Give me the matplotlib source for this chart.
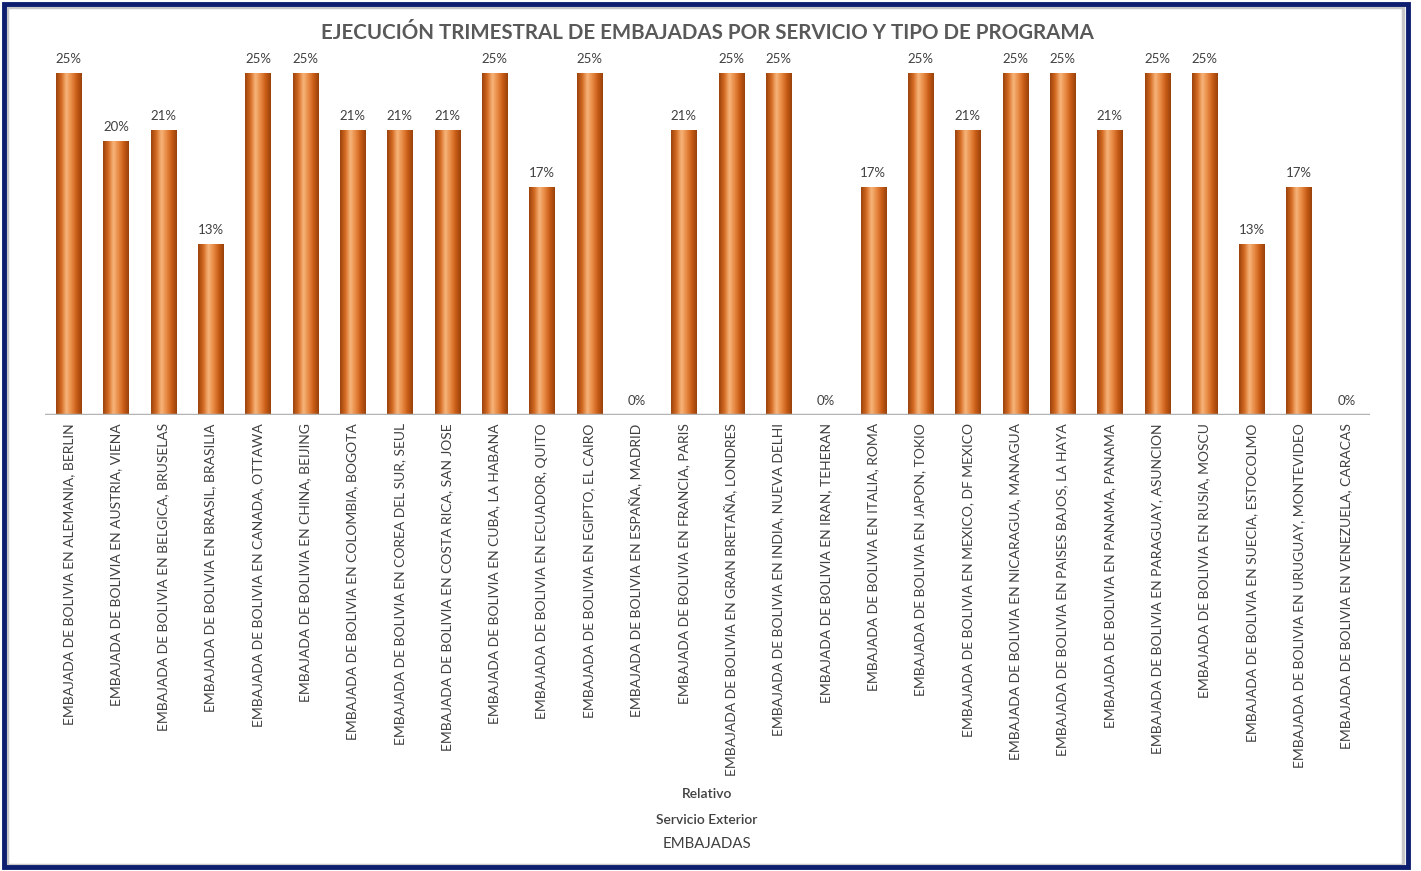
import numpy as np
import matplotlib.pyplot as plt
from matplotlib.colors import LinearSegmentedColormap
from matplotlib.patches import Rectangle

plt.rcParams['font.family'] = ['Lato', 'DejaVu Sans']

# data
paises = ['ALEMANIA, BERLIN', 'AUSTRIA, VIENA', 'BELGICA, BRUSELAS', 'BRASIL, BRASILIA',
          'CANADA, OTTAWA', 'CHINA, BEIJING', 'COLOMBIA, BOGOTA', 'COREA DEL SUR, SEUL',
          'COSTA RICA, SAN JOSE', 'CUBA, LA HABANA', 'ECUADOR, QUITO', 'EGIPTO, EL CAIRO',
          'ESPAÑA, MADRID', 'FRANCIA, PARIS', 'GRAN BRETAÑA, LONDRES', 'INDIA, NUEVA DELHI',
          'IRAN, TEHERAN', 'ITALIA, ROMA', 'JAPON, TOKIO', 'MEXICO, DF MEXICO',
          'NICARAGUA, MANAGUA', 'PAISES BAJOS, LA HAYA', 'PANAMA, PANAMA', 'PARAGUAY, ASUNCION',
          'RUSIA, MOSCU', 'SUECIA, ESTOCOLMO', 'URUGUAY, MONTEVIDEO', 'VENEZUELA, CARACAS']
etiquetas = ['EMBAJADA DE BOLIVIA EN ' + p for p in paises]
ejecucion = [0.25, 0.20, 0.2083, 0.125, 0.25, 0.25, 0.2083, 0.2083, 0.2083, 0.25,
             0.1667, 0.25, 0.0, 0.2083, 0.25, 0.25, 0.0, 0.1667, 0.25, 0.2083,
             0.25, 0.25, 0.2083, 0.25, 0.25, 0.125, 0.1667, 0.0]

W, H = 1421, 871
fig = plt.figure(figsize=(W/100, H/100), dpi=100)

# frame (navy border + grey inner shadow)
fig.patches.append(Rectangle((4/W, 4/H), 1404/W, 863/H, transform=fig.transFigure,
                             fill=False, edgecolor='#0d1f6e', linewidth=3.5, zorder=10))
fig.patches.append(Rectangle((7/W, 6/H), 1396/W, 858/H, transform=fig.transFigure,
                             fill=False, edgecolor='#c8c8c8', linewidth=2.5, zorder=9))

ax = fig.add_axes([45/W, (H-415)/H, 1325/W, 380/H])
x = np.arange(len(etiquetas))
bars = ax.bar(x, ejecucion, width=0.53, color='#d0651c', zorder=2)

# cylinder shading
cmap = LinearSegmentedColormap.from_list('cil', ['#9c430c', '#d36a22', '#f7b47a', '#e88a44',
                                                  '#c95d17', '#9a410b'])
grad = np.linspace(0, 1, 64).reshape(1, -1)
for b in bars:
    if b.get_height() <= 0:
        continue
    im = ax.imshow(grad, cmap=cmap, aspect='auto', zorder=3,
                   extent=[b.get_x(), b.get_x()+b.get_width(), 0, b.get_height()])
    im.set_clip_path(b)

# excel rounds half up
for xi, v in zip(x, ejecucion):
    ax.text(xi, v + 0.006, '%d%%' % int(v*100 + 0.5), ha='center', va='bottom',
            fontsize=9.5, color='#404040')

ax.set_xlim(-0.5, len(etiquetas)-0.5)
ax.set_ylim(0, 0.25*380/342)
ax.axhline(0, color='#b4b4b4', linewidth=2.5, zorder=4)
ax.set_xticks(x)
ax.set_xticklabels(etiquetas, rotation=90, fontsize=10, color='#404040')
ax.tick_params(axis='x', length=0, pad=6)
ax.set_yticks([])
for s in ax.spines.values():
    s.set_visible(False)
ax.patch.set_alpha(0)

fig.text(707/W, 1-33/H, 'EJECUCIÓN TRIMESTRAL DE EMBAJADAS POR SERVICIO Y TIPO DE PROGRAMA',
         ha='center', va='center', fontsize=14.8, fontweight='bold', color='#595959')
fig.text(707/W, 1-794/H, 'Relativo', ha='center', va='center', fontsize=10,
         fontweight='semibold', color='#404040')
fig.text(707/W, 1-820/H, 'Servicio Exterior', ha='center', va='center', fontsize=10,
         fontweight='semibold', color='#404040')
fig.text(707/W, 1-844/H, 'EMBAJADAS', ha='center', va='center', fontsize=10.8,
         color='#404040')

fig.savefig('out.png', dpi=100)
